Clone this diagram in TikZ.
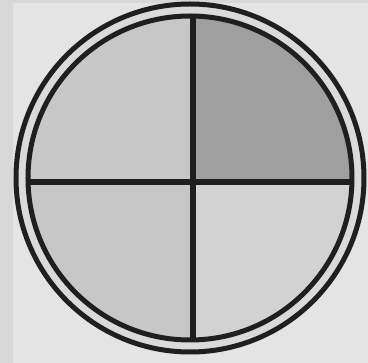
\documentclass[tikz,border=0pt]{standalone}
\usepackage{tikz}
\usetikzlibrary{positioning}

\definecolor{frameband}{HTML}{D8D8D8}
\definecolor{paper}{HTML}{E4E4E4}
\definecolor{ringgap}{HTML}{DADADA}
\definecolor{quadlight}{HTML}{C7C7C7}
\definecolor{quadpale}{HTML}{D2D2D2}
\definecolor{quaddark}{HTML}{9F9F9F}

\tikzset{
    ringline/.style={draw=black!88, line width=5pt},
    crossline/.style={draw=black!88, line width=5.5pt}
}

\begin{document}
\begin{tikzpicture}[x=1pt, y=-1pt]

    % --- background ---
    \fill[frameband] (0,0) rectangle (368,363);
    \fill[paper] (13,3) rectangle (368,363);
    \useasboundingbox (0,0) rectangle (368,363);

    \coordinate (centre) at (190,178);
    \coordinate (cross) at (193,182);

    % outer ring
    \fill[ringgap] (centre) circle (174);

    % quadrants
    \begin{scope}
        \clip (centre) circle (162);
        \fill[quadlight] (cross) rectangle (0,0);     % top left
        \fill[quaddark]  (cross) rectangle (368,0);   % top right
        \fill[quadlight] (cross) rectangle (0,363);   % bottom left
        \fill[quadpale]  (cross) rectangle (368,363); % bottom right
    \end{scope}

    % cross
    \draw[crossline] (cross |- 0,16) -- (cross |- 0,340);
    \draw[crossline] (cross -| 28,0) -- (cross -| 352,0);

    % rings
    \draw[ringline] (centre) circle (174);
    \draw[ringline] (centre) circle (162);

\end{tikzpicture}
\end{document}
